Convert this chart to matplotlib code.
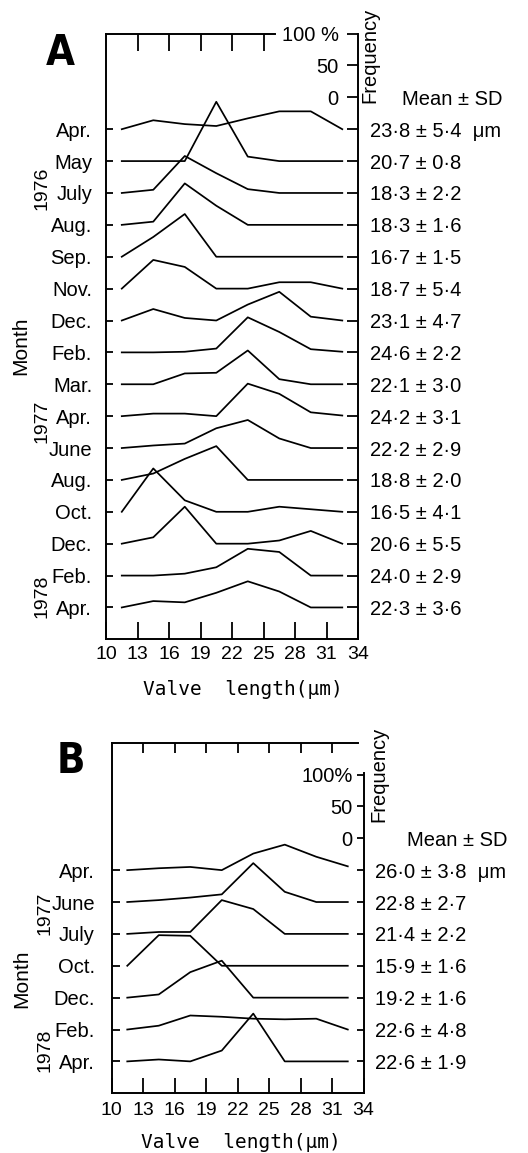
import matplotlib
matplotlib.use("Agg")
import matplotlib.pyplot as plt
from matplotlib import font_manager

# class mid-points of valve length (um) and axis ticks
length_mid = [11.5, 14.5, 17.5, 20.5, 23.5, 26.5, 29.5, 32.5]
length_ticks = [10, 13, 16, 19, 22, 25, 28, 31, 34]

# panel A: 1976-1978
months_a = ["Apr.", "May", "July", "Aug.", "Sep.", "Nov.", "Dec.", "Feb.",
            "Mar.", "Apr.", "June", "Aug.", "Oct.", "Dec.", "Feb.", "Apr."]
stats_a = ["23·8 ± 5·4  μm", "20·7 ± 0·8", "18·3 ± 2·2", "18·3 ± 1·6",
           "16·7 ± 1·5", "18·7 ± 5·4", "23·1 ± 4·7", "24·6 ± 2·2",
           "22·1 ± 3·0", "24·2 ± 3·1", "22·2 ± 2·9", "18·8 ± 2·0",
           "16·5 ± 4·1", "20·6 ± 5·5", "24·0 ± 2·9", "22·3 ± 3·6"]
freq_a = [
    [0, 14, 8, 5, 17, 28, 28, 0],
    [0, 0, 0, 93, 7, 0, 0, 0],
    [0, 5, 58, 31, 6, 0, 0, 0],
    [0, 5, 65, 30, 0, 0, 0, 0],
    [0, 31, 67, 0, 0, 0, 0, 0],
    [0, 45, 34, 0, 0, 10, 10, 0],
    [0, 18, 4, 0, 25, 45, 6, 0],
    [0, 0, 1, 6, 55, 32, 5, 1],
    [0, 0, 17, 18, 53, 8, 0, 0],
    [0, 4, 4, 0, 51, 35, 6, 1],
    [0, 4, 7, 31, 44, 15, 0, 0],
    [0, 10, 33, 53, 0, 0, 0, 0],
    [0, 68, 18, 0, 0, 8, 4, 0],
    [0, 10, 58, 0, 0, 5, 20, 0],
    [0, 0, 3, 13, 42, 37, 0, 0],
    [0, 10, 8, 23, 41, 25, 0, 0],
]
years_a = [("1976", -92), ("1977", -458), ("1978", -732)]

# panel B: 1977-1978
months_b = ["Apr.", "June", "July", "Oct.", "Dec.", "Feb.", "Apr."]
stats_b = ["26·0 ± 3·8  μm", "22·8 ± 2·7", "21·4 ± 2·2", "15·9 ± 1·6",
           "19·2 ± 1·6", "22·6 ± 4·8", "22·6 ± 1·9"]
freq_b = [
    [0, 3, 5, 0, 26, 40, 21, 6],
    [0, 3, 7, 12, 61, 16, 0, 0],
    [0, 3, 3, 53, 39, 0, 0, 0],
    [0, 48, 47, 0, 0, 0, 0, 0],
    [0, 5, 40, 58, 0, 0, 0, 0],
    [0, 6, 22, 20, 17, 16, 17, 0],
    [0, 3, 0, 17, 75, 0, 0, 0],
]
years_b = [("1977", -67), ("1978", -283)]

freq_levels = [0, 50, 100]
STEP = 50  # vertical offset between months, in % units

installed = {f.name for f in font_manager.fontManager.ttflist}
HAS_NARROW = "Liberation Sans Narrow" in installed

plt.rcParams.update({
    "font.family": ["Liberation Sans", "DejaVu Sans"],
    "font.size": 14.5,
    "text.color": "black",
    "axes.linewidth": 1.4,
    "xtick.major.width": 1.3,
    "ytick.major.width": 1.3,
    "xtick.direction": "in",
    "ytick.direction": "in",
})

if HAS_NARROW:
    LETTER = dict(family=["Liberation Sans Narrow"], fontweight="bold", fontsize=32)
    TICKFONT = dict(family=["Liberation Sans Narrow"], fontsize=15.5)
else:
    LETTER = dict(family=["DejaVu Sans"], fontstretch="condensed",
                  fontweight="bold", fontsize=30)
    TICKFONT = dict(family=["Liberation Sans"], fontsize=14)


def draw_panel(fig, rect, months, stats, freqs, years, letter, cfg):
    ax = fig.add_axes(rect)
    ax.set_xlim(10, 34)
    ax.set_ylim(*cfg["ylim"])
    base = [-STEP * i for i in range(len(months))]

    for i, f in enumerate(freqs):
        ax.plot(length_mid, [v + base[i] for v in f], color="black", lw=1.25)

    # bottom axis + left month ticks
    ax.spines["top"].set_visible(False)
    ax.spines["right"].set_visible(False)
    ax.set_xticks(length_ticks)
    ax.set_xticklabels([str(t) for t in length_ticks], **TICKFONT)
    ax.tick_params(axis="x", length=cfg["bottom_len"], pad=cfg["xpad"])
    ax.set_yticks(base)
    ax.set_yticklabels(months)
    ax.tick_params(axis="y", length=cfg["left_len"], pad=cfg["month_pad"])

    # top ticks, partial top frame
    top = ax.twiny()
    top.set_xlim(10, 34)
    top.set_xticks(cfg["top_ticks"])
    top.set_xticklabels([])
    top.tick_params(axis="x", length=cfg["top_len"])
    for s in ("left", "right", "bottom"):
        top.spines[s].set_visible(False)
    top.spines["top"].set_bounds(10, cfg["top_end"])

    # right side: stats and frequency scale
    right = ax.twinx()
    right.set_ylim(*cfg["ylim"])
    right.set_yticks(base + [STEP + v for v in freq_levels])
    right.set_yticklabels(stats + [""] * len(freq_levels))
    right.tick_params(axis="y", length=cfg["right_len"], pad=cfg["stat_pad"])
    for s in ("left", "top", "bottom"):
        right.spines[s].set_visible(False)
    right.spines["right"].set_bounds(cfg["ylim"][0], cfg["right_top"])

    ytr = ax.get_yaxis_transform()
    for lab, v in zip(cfg["freq_labels"], freq_levels):
        ax.annotate(lab, xy=(1, STEP + v), xycoords=ytr,
                    xytext=(cfg["freq_off"], 0), textcoords="offset points",
                    ha="right", va="center_baseline")
    ax.text(cfg["mean_x"], STEP, "Mean ± SD", transform=ytr,
            ha="left", va="center_baseline")
    ax.text(cfg["freq_x"], cfg["freq_y"], "Frequency", transform=ytr,
            rotation=90, ha="center", va="center")

    for yr, y in years:
        ax.text(cfg["year_x"], y, yr, transform=ytr, rotation=90,
                ha="center", va="center", fontsize=14)
    ax.text(cfg["month_x"], cfg["month_y"], "Month", transform=ytr,
            rotation=90, ha="center", va="center", fontsize=15)

    ax.text(cfg["xlab_x"], cfg["xlab_y"], "Valve  length(μm)",
            transform=ax.transAxes, ha="center", va="top",
            family=["DejaVu Sans Mono"], fontsize=14)

    fig.text(cfg["letter_x"], cfg["letter_y"], letter, ha="center",
             va="baseline", **LETTER)
    return ax


fig = plt.figure(figsize=(5.28, 11.53), dpi=100)

cfg_a = dict(
    ylim=(-800, 150), top_ticks=[13, 16, 19, 22, 25], top_len=12, top_end=26.1,
    right_top=150, bottom_len=12, left_len=5, right_len=8, xpad=5,
    month_pad=10, stat_pad=8.5, freq_off=-14,
    freq_labels=["0", "50", "100 %"],
    mean_x=1.175, freq_x=1.048, freq_y=116,
    year_x=-0.254, month_x=-0.337, month_y=-340,
    xlab_x=0.542, xlab_y=-0.067, letter_x=0.1146, letter_y=0.9436,
)
cfg_b = dict(
    ylim=(-350, 200), top_ticks=[13, 16, 19, 22, 25, 28, 31], top_len=7,
    top_end=33.5, right_top=153, bottom_len=11, left_len=6, right_len=5,
    xpad=6, month_pad=12, stat_pad=8, freq_off=-8,
    freq_labels=["0", "50", "100%"],
    mean_x=1.173, freq_x=1.061, freq_y=150,
    year_x=-0.264, month_x=-0.355, month_y=-170,
    xlab_x=0.514, xlab_y=-0.113, letter_x=0.1345, letter_y=0.3296,
)

draw_panel(fig, [0.2008, 0.4455, 0.4773, 0.5254], months_a, stats_a, freq_a,
           years_a, "A", cfg_a)
draw_panel(fig, [0.2112, 0.0518, 0.4773, 0.3041], months_b, stats_b, freq_b,
           years_b, "B", cfg_b)

fig.savefig("out.png", dpi=100, facecolor="white")
